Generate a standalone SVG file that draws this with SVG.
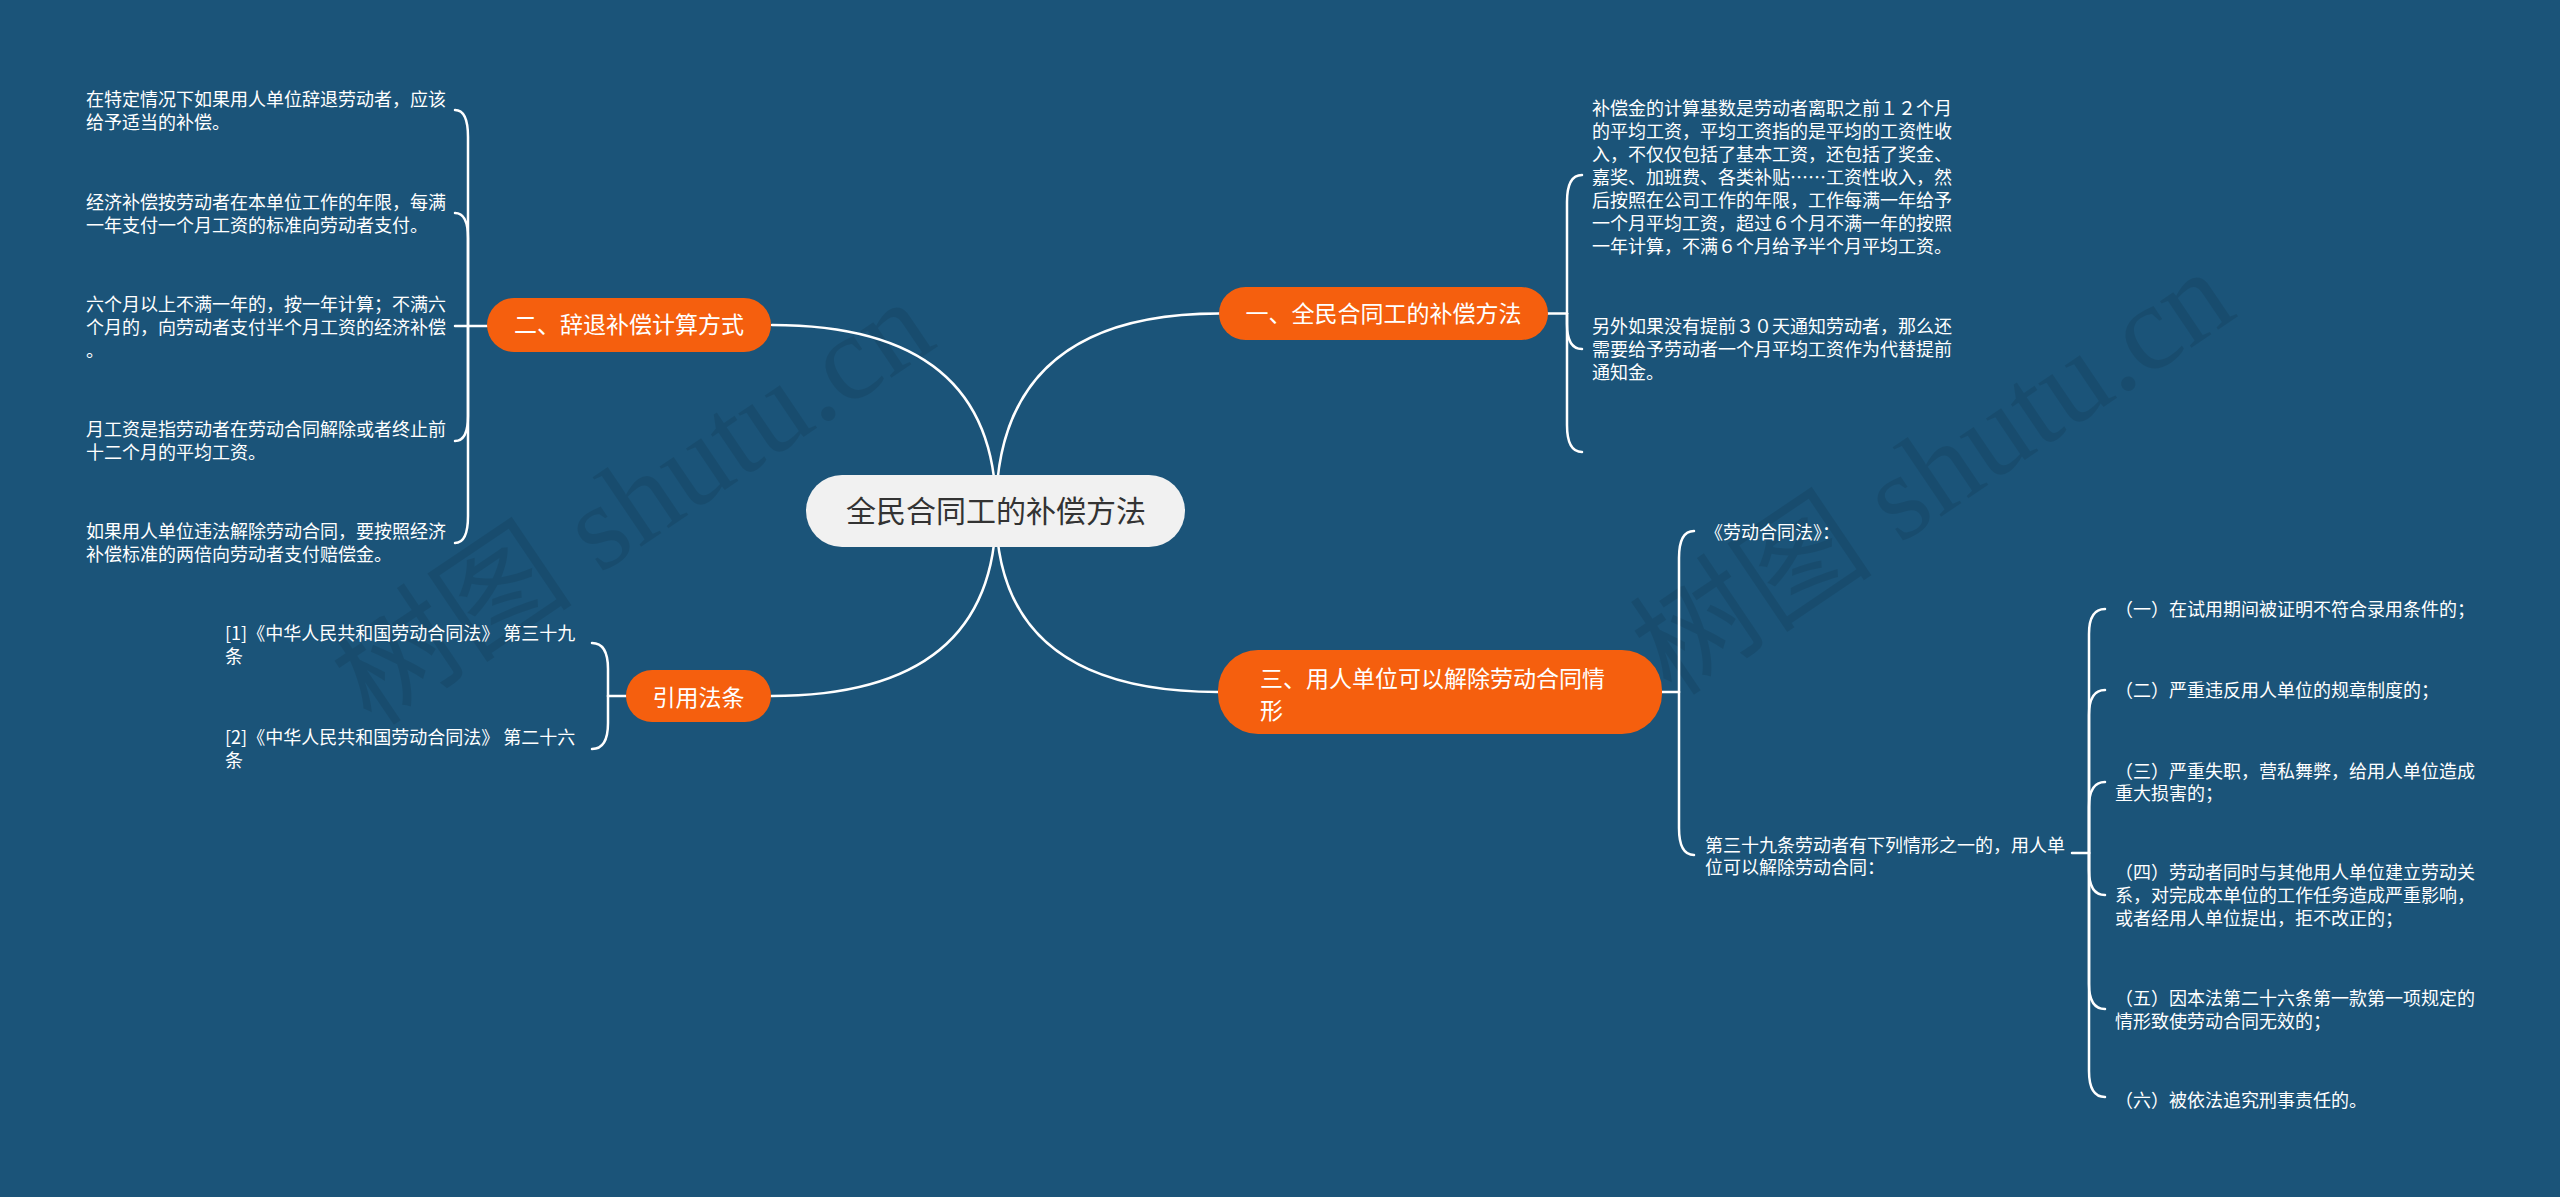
<svg xmlns="http://www.w3.org/2000/svg" width="2560" height="1197" viewBox="0 0 2560 1197">
<defs>
<style>
.bg{fill:#1b5479}
.wm{font-family:"Liberation Serif","Noto Sans CJK SC",serif;font-size:122px;fill:#000;fill-opacity:0.09}
.ln{fill:none;stroke:#ffffff;stroke-width:2.5;stroke-linecap:round}
.org{fill:#f55f0e}
.root{fill:#f1f1f1}
.rt{font-family:"Noto Sans CJK SC",sans-serif;font-size:30px;fill:#333333;text-anchor:middle}
.ot{font-family:"Noto Sans CJK SC",sans-serif;font-size:23px;fill:#ffffff}
.otm{text-anchor:middle}
.lf{font-family:"Noto Sans CJK SC",sans-serif;font-size:18px;fill:#ffffff}
</style>
</defs>
<rect class="bg" x="0" y="0" width="2560" height="1197"/>
<g id="watermarks">
<text class="wm" transform="translate(372,728) rotate(-34)">树图 shutu.cn</text>
<text class="wm" transform="translate(1672,698) rotate(-34)">树图 shutu.cn</text>
</g>
<g id="connectors">
<path class="ln" d="M996 511 Q996 325 772 325"/>
<path class="ln" d="M996 511 Q996 313.5 1219 313.5"/>
<path class="ln" d="M996 511 Q996 692 1218 692"/>
<path class="ln" d="M996 511 Q996 696 771 696"/>
<path class="ln" d="M487 326 L455 326"/>
<path class="ln" d="M468 326 L468 137 Q468 110 455 110"/>
<path class="ln" d="M468 326 L468 238 Q468 213 455 213"/>
<path class="ln" d="M468 326 L468 416 Q468 441 455 441"/>
<path class="ln" d="M468 326 L468 516 Q468 543 455 543"/>
<path class="ln" d="M1548 313.5 L1567 313.5"/>
<path class="ln" d="M1567 313.5 L1567 202 Q1567 175 1582 175"/>
<path class="ln" d="M1567 313.5 L1567 324 Q1567 349 1582 349"/>
<path class="ln" d="M1567 313.5 L1567 425 Q1567 452 1582 452"/>
<path class="ln" d="M1662 692 L1679 692"/>
<path class="ln" d="M1679 692 L1679 558 Q1679 531 1694 531"/>
<path class="ln" d="M1679 692 L1679 828 Q1679 855 1694 855"/>
<path class="ln" d="M2072 853 L2089 853"/>
<path class="ln" d="M2089 853 L2089 634 Q2089 609 2105 609"/>
<path class="ln" d="M2089 853 L2089 715 Q2089 690 2105 690"/>
<path class="ln" d="M2089 853 L2089 807 Q2089 782 2105 782"/>
<path class="ln" d="M2089 853 L2089 870 Q2089 895 2105 895"/>
<path class="ln" d="M2089 853 L2089 984 Q2089 1009 2105 1009"/>
<path class="ln" d="M2089 853 L2089 1071 Q2089 1097 2105 1097"/>
<path class="ln" d="M626 696 L608 696"/>
<path class="ln" d="M608 696 L608 669 Q608 643 592 643"/>
<path class="ln" d="M608 696 L608 723 Q608 749 592 749"/>
</g>
<g id="root">
<rect class="root" x="806" y="475" width="379" height="72" rx="36"/>
<text class="rt" x="996" y="521.5">全民合同工的补偿方法</text>
</g>
<g id="n1">
<rect class="org" x="1219" y="287" width="329" height="53" rx="26.5"/>
<text class="ot otm" x="1383.5" y="322">一、全民合同工的补偿方法</text>
</g>
<g id="n2">
<rect class="org" x="487" y="298" width="284" height="54" rx="27"/>
<text class="ot otm" x="629" y="333">二、辞退补偿计算方式</text>
</g>
<g id="n3">
<rect class="org" x="1218" y="650" width="444" height="84" rx="40"/>
<text class="ot" x="1260" y="687">三、用人单位可以解除劳动合同情</text>
<text class="ot" x="1260" y="719">形</text>
</g>
<g id="n4">
<rect class="org" x="626" y="670" width="145" height="52" rx="26"/>
<text class="ot otm" x="698.5" y="705.5">引用法条</text>
</g>
<g id="n2-1">
<text class="lf" x="86" y="105.5">在特定情况下如果用人单位辞退劳动者，应该</text>
<text class="lf" x="86" y="128.5">给予适当的补偿。</text>
</g>
<g id="n2-2">
<text class="lf" x="86" y="208.5">经济补偿按劳动者在本单位工作的年限，每满</text>
<text class="lf" x="86" y="231.5">一年支付一个月工资的标准向劳动者支付。</text>
</g>
<g id="n2-3">
<text class="lf" x="86" y="311">六个月以上不满一年的，按一年计算；不满六</text>
<text class="lf" x="86" y="334">个月的，向劳动者支付半个月工资的经济补偿</text>
<text class="lf" x="86" y="357">。</text>
</g>
<g id="n2-4">
<text class="lf" x="86" y="436">月工资是指劳动者在劳动合同解除或者终止前</text>
<text class="lf" x="86" y="459">十二个月的平均工资。</text>
</g>
<g id="n2-5">
<text class="lf" x="86" y="538">如果用人单位违法解除劳动合同，要按照经济</text>
<text class="lf" x="86" y="561">补偿标准的两倍向劳动者支付赔偿金。</text>
</g>
<g id="n1-1">
<text class="lf" x="1592" y="114.5">补偿金的计算基数是劳动者离职之前１２个月</text>
<text class="lf" x="1592" y="137.5">的平均工资，平均工资指的是平均的工资性收</text>
<text class="lf" x="1592" y="160.5">入，不仅仅包括了基本工资，还包括了奖金、</text>
<text class="lf" x="1592" y="183.5">嘉奖、加班费、各类补贴……工资性收入，然</text>
<text class="lf" x="1592" y="206.5">后按照在公司工作的年限，工作每满一年给予</text>
<text class="lf" x="1592" y="229.5">一个月平均工资，超过６个月不满一年的按照</text>
<text class="lf" x="1592" y="252.5">一年计算，不满６个月给予半个月平均工资。</text>
</g>
<g id="n1-2">
<text class="lf" x="1592" y="333">另外如果没有提前３０天通知劳动者，那么还</text>
<text class="lf" x="1592" y="356">需要给予劳动者一个月平均工资作为代替提前</text>
<text class="lf" x="1592" y="379">通知金。</text>
</g>
<g id="n3-1">
<text class="lf" x="1705" y="538.5">《劳动合同法》：</text>
</g>
<g id="n3-2">
<text class="lf" x="1705" y="851.5">第三十九条劳动者有下列情形之一的，用人单</text>
<text class="lf" x="1705" y="874">位可以解除劳动合同：</text>
</g>
<g id="n3-2-1">
<text class="lf" x="2115" y="615.5">（一）在试用期间被证明不符合录用条件的；</text>
</g>
<g id="n3-2-2">
<text class="lf" x="2115" y="696.5">（二）严重违反用人单位的规章制度的；</text>
</g>
<g id="n3-2-3">
<text class="lf" x="2115" y="777.5">（三）严重失职，营私舞弊，给用人单位造成</text>
<text class="lf" x="2115" y="800">重大损害的；</text>
</g>
<g id="n3-2-4">
<text class="lf" x="2115" y="879">（四）劳动者同时与其他用人单位建立劳动关</text>
<text class="lf" x="2115" y="902">系，对完成本单位的工作任务造成严重影响，</text>
<text class="lf" x="2115" y="925">或者经用人单位提出，拒不改正的；</text>
</g>
<g id="n3-2-5">
<text class="lf" x="2115" y="1005">（五）因本法第二十六条第一款第一项规定的</text>
<text class="lf" x="2115" y="1027.5">情形致使劳动合同无效的；</text>
</g>
<g id="n3-2-6">
<text class="lf" x="2115" y="1106.5">（六）被依法追究刑事责任的。</text>
</g>
<g id="n4-1">
<text class="lf" x="225" y="640">[1]《中华人民共和国劳动合同法》 第三十九</text>
<text class="lf" x="225" y="663">条</text>
</g>
<g id="n4-2">
<text class="lf" x="225" y="744">[2]《中华人民共和国劳动合同法》 第二十六</text>
<text class="lf" x="225" y="767">条</text>
</g>
</svg>
